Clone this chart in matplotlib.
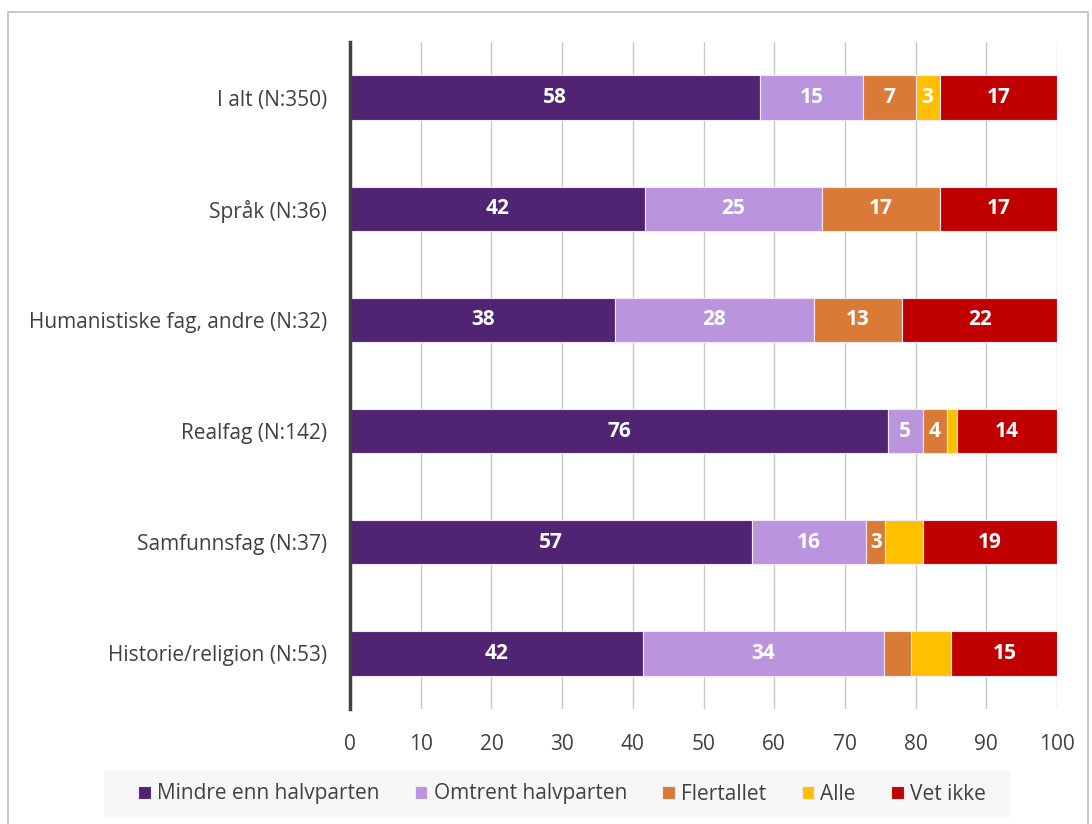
import matplotlib
matplotlib.use("Agg")
import matplotlib.pyplot as plt
import numpy as np
from matplotlib.patches import Rectangle

categories = ["I alt (N:350)", "Språk (N:36)", "Humanistiske fag, andre (N:32)",
              "Realfag (N:142)", "Samfunnsfag (N:37)", "Historie/religion (N:53)"]
series_names = ["Mindre enn halvparten", "Omtrent halvparten", "Flertallet", "Alle", "Vet ikke"]
mindre = [58.0, 41.7, 37.5, 76.1, 56.8, 41.5]
omtrent = [14.6, 25.0, 28.1, 4.9, 16.2, 34.0]
flertallet = [7.4, 16.7, 12.5, 3.5, 2.7, 3.8]
alle = [3.4, 0.0, 0.0, 1.4, 5.4, 5.7]
vet_ikke = [16.6, 16.7, 21.9, 14.1, 18.9, 15.1]
# which data labels are displayed in the original (per series, per category)
show_labels = [
    [True, True, True, True, True, True],
    [True, True, True, True, True, True],
    [True, True, True, True, True, False],
    [True, False, False, False, False, False],
    [True, True, True, True, True, True],
]
colors = ["#512373", "#BA94DC", "#DA7A37", "#FFC000", "#C00000"]

plt.rcParams['font.family'] = ['Open Sans', 'DejaVu Sans']

fig = plt.figure(figsize=(10.92, 8.24), dpi=100)
W, H = 1092, 824
ax = fig.add_axes([350 / W, 1 - 709 / H, (1057 - 350) / W, (709 - 42) / H])

data = [mindre, omtrent, flertallet, alle, vet_ikke]
y = np.arange(len(categories))
left = np.zeros(len(categories))
for i, (vals, col, name) in enumerate(zip(data, colors, series_names)):
    vals = np.array(vals)
    bars = ax.barh(y, vals, left=left, height=0.4, color=col, edgecolor="#F2E8F8",
                   linewidth=0.8, label=name, zorder=3)
    for j, b in enumerate(bars):
        if show_labels[i][j] and vals[j] > 0:
            ax.text(left[j] + vals[j] / 2, y[j], f"{int(vals[j] + 0.5)}", ha="center",
                    va="center", color="white", fontsize=15, fontweight="bold", zorder=4)
    left += vals

ax.set_xlim(0, 100)
ax.set_ylim(len(categories) - 0.5, -0.5)
ax.set_yticks(y)
ax.set_yticklabels(categories, fontsize=15, color="#404040")
ax.set_xticks(np.arange(0, 101, 10))
ax.tick_params(axis="x", labelsize=15, colors="#404040", length=0, pad=18)
ax.tick_params(axis="y", length=0, pad=16.5)
ax.grid(axis="x", color="#C8C8C8", linewidth=1.0, zorder=0)
for s in ["top", "right", "bottom"]:
    ax.spines[s].set_visible(False)
ax.spines["left"].set_color("#404040")
ax.spines["left"].set_linewidth(2.5)
ax.spines["left"].set_zorder(5)

# legend background box
fig.patches.append(Rectangle((104 / W, 1 - 817 / H), (1010 - 104) / W, (817 - 771) / H,
                             transform=fig.transFigure, facecolor="#F7F7F7",
                             edgecolor="none", zorder=0))
leg = fig.legend(loc="center", bbox_to_anchor=(562 / W, 1 - 794 / H), ncol=5, frameon=False,
                 fontsize=15, handlelength=0.6, handleheight=0.6, handletextpad=0.3,
                 columnspacing=1.7, labelcolor="#404040")

# outer chart border
fig.patches.append(Rectangle((8 / W, -0.05), (1088 - 8) / W, (1 - 12 / H) + 0.05,
                             transform=fig.transFigure, facecolor="none",
                             edgecolor="#BFBFBF", linewidth=1.2, zorder=0))

fig.savefig("out.png", dpi=100)
